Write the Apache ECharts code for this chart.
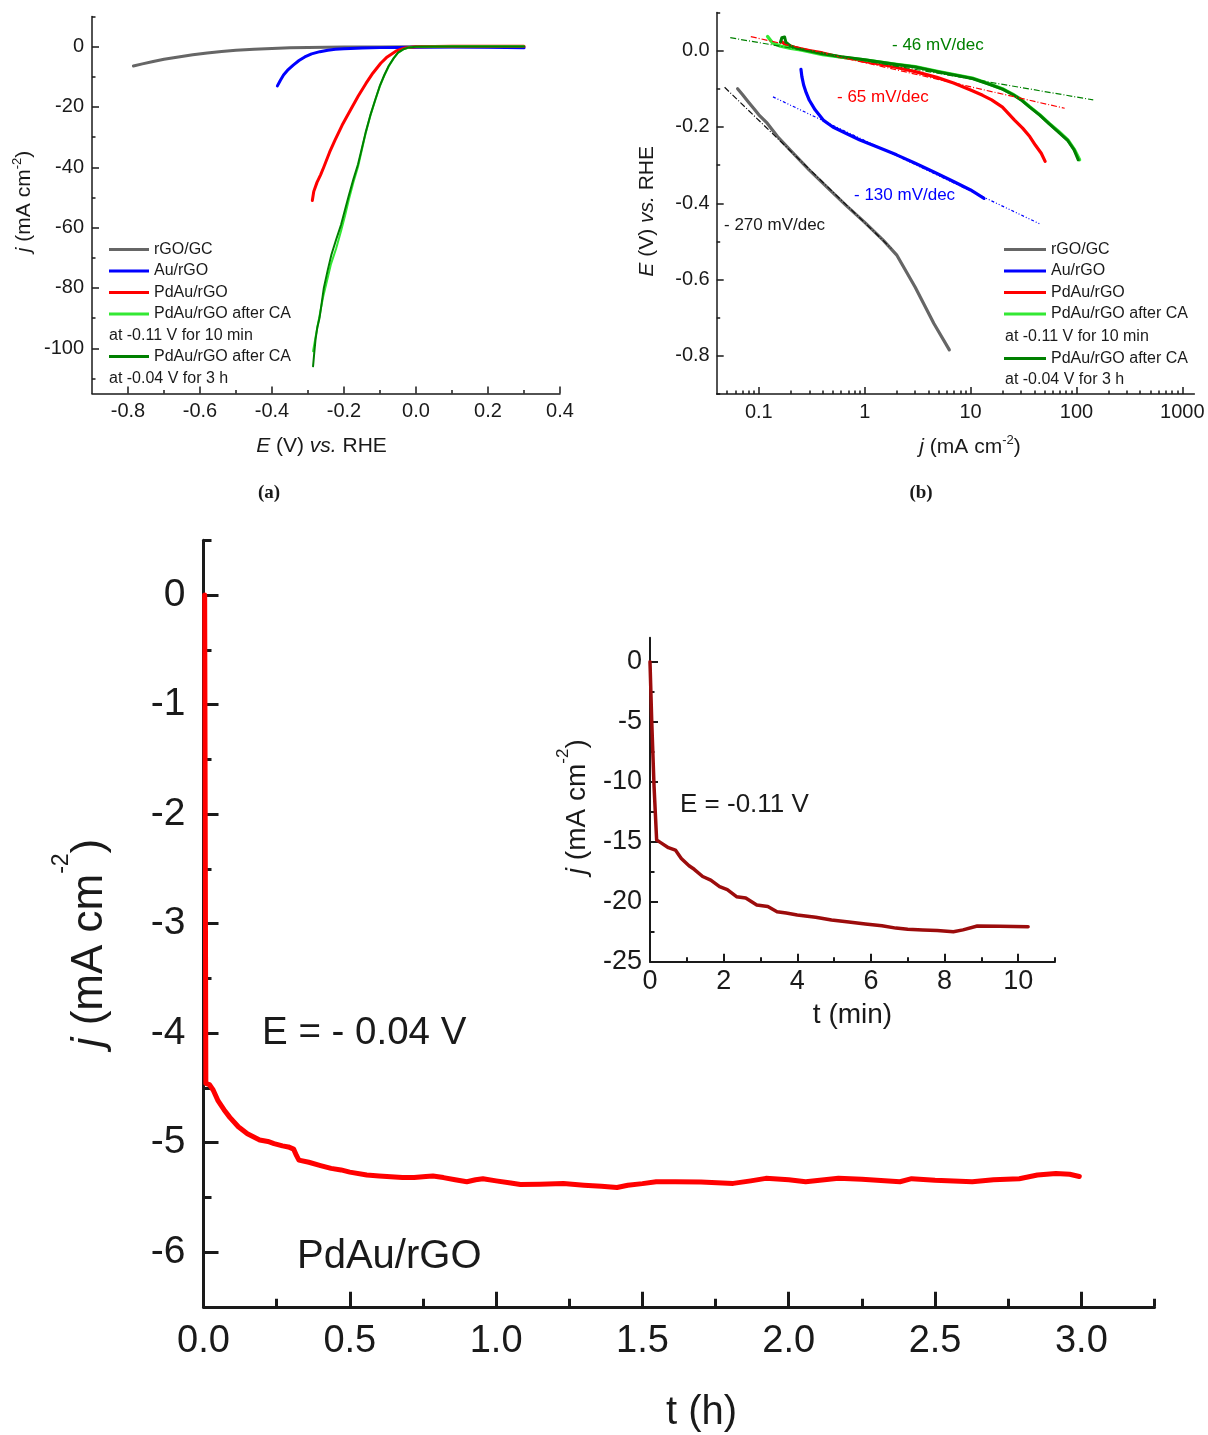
<!DOCTYPE html>
<html>
<head>
<meta charset="utf-8">
<script src="https://cdn.jsdelivr.net/npm/echarts@6/dist/echarts.min.js"></script>
<style>
  html, body { margin: 0; padding: 0; background: #ffffff; }
  #chart { width: 1208px; height: 1435px; }
</style>
</head>
<body>
<div id="chart"></div>
<script>
// ---------- (a) polarization curves: [E vs RHE (V), j (mA cm-2)] ----------
const lsvRgoGc = [[-0.785,-6.4],[-0.76,-5.7],[-0.73,-4.9],[-0.70,-4.2],[-0.66,-3.4],[-0.62,-2.7],[-0.58,-2.1],[-0.54,-1.6],[-0.50,-1.2],[-0.45,-0.85],[-0.40,-0.6],[-0.35,-0.4],[-0.30,-0.28],[-0.25,-0.2],[-0.20,-0.14],[-0.10,-0.08],[0.0,-0.04],[0.1,-0.02],[0.3,0]];
const lsvAu = [[-0.385,-13],[-0.377,-11.2],[-0.368,-9.4],[-0.355,-7.6],[-0.341,-6.1],[-0.325,-4.6],[-0.309,-3.4],[-0.29,-2.4],[-0.267,-1.66],[-0.245,-1.2],[-0.224,-0.87],[-0.2,-0.68],[-0.182,-0.57],[-0.15,-0.45],[-0.1,-0.32],[-0.05,-0.24],[0,-0.18],[0.1,-0.14],[0.2,-0.18],[0.3,-0.4]];
const lsvPdAu = [[-0.288,-51],[-0.284,-48],[-0.275,-45],[-0.265,-42.5],[-0.256,-39.9],[-0.24,-35],[-0.225,-31],[-0.205,-26],[-0.182,-21],[-0.16,-16.3],[-0.139,-12.2],[-0.12,-8.8],[-0.098,-5.5],[-0.08,-3.4],[-0.055,-1.4],[-0.03,-0.4],[0,0],[0.1,0.1],[0.3,0.1]];
const lsvCa10min = [[-0.286,-101],[-0.28,-97],[-0.274,-93],[-0.266,-88],[-0.258,-83],[-0.248,-78],[-0.236,-72],[-0.222,-67],[-0.208,-61],[-0.197,-56],[-0.187,-50.9],[-0.174,-45],[-0.161,-39.8],[-0.15,-34],[-0.14,-28.8],[-0.127,-23],[-0.113,-17.7],[-0.1,-13],[-0.088,-9.6],[-0.076,-6.6],[-0.062,-3.9],[-0.05,-2.1],[-0.035,-0.9],[-0.02,-0.3],[0,0],[0.1,0.1],[0.3,0.1]];
const lsvCa3h = [[-0.286,-106],[-0.283,-102],[-0.279,-97],[-0.274,-93],[-0.268,-90],[-0.262,-85],[-0.256,-80],[-0.245,-74],[-0.235,-69],[-0.222,-64],[-0.208,-59],[-0.197,-54],[-0.187,-49.5],[-0.174,-44],[-0.161,-39],[-0.15,-33.5],[-0.14,-28.5],[-0.127,-22.8],[-0.113,-17.5],[-0.1,-12.8],[-0.088,-9.4],[-0.076,-6.4],[-0.062,-3.8],[-0.05,-2.0],[-0.035,-0.85],[-0.02,-0.25],[0,0],[0.1,0.05],[0.3,0.05]];

// ---------- (b) Tafel plots: [j (mA cm-2), E vs RHE (V)] ----------
const tafelRgoGc = [[0.063,-0.10],[0.07,-0.115],[0.08,-0.135],[0.09,-0.152],[0.1,-0.168],[0.12,-0.19],[0.15,-0.225],[0.2,-0.262],[0.3,-0.313],[0.45,-0.36],[0.67,-0.406],[1.0,-0.45],[1.5,-0.497],[2.0,-0.535],[3.0,-0.62],[4.5,-0.715],[6.3,-0.784]];
const tafelAu = [[0.25,-0.049],[0.255,-0.068],[0.265,-0.09],[0.28,-0.11],[0.3,-0.13],[0.34,-0.155],[0.406,-0.182],[0.5,-0.2],[0.67,-0.217],[0.9,-0.234],[1.3,-0.252],[2.0,-0.273],[3.0,-0.295],[4.5,-0.318],[6.9,-0.343],[10,-0.365],[13.4,-0.387]];
const tafelPdAu = [[0.163,0.024],[0.18,0.016],[0.22,0.008],[0.3,0.0],[0.4,-0.006],[0.57,-0.016],[0.8,-0.022],[1.0,-0.028],[1.5,-0.037],[2.0,-0.044],[3.0,-0.055],[4.8,-0.07],[6.9,-0.085],[10,-0.103],[13,-0.117],[15.8,-0.129],[20,-0.148],[26,-0.182],[31,-0.203],[36.2,-0.225],[41,-0.248],[46.5,-0.269],[50.6,-0.29]];
const tafelCa10min = [[0.121,0.037],[0.135,0.02],[0.16,0.012],[0.2,0.006],[0.247,0.002],[0.4,-0.01],[0.6,-0.017],[1.0,-0.024],[2.0,-0.036],[3.0,-0.042],[5.0,-0.055],[10.4,-0.072],[15,-0.087],[20,-0.1],[25,-0.114],[30,-0.128],[36.2,-0.147],[45,-0.168],[55,-0.19],[68,-0.212],[83,-0.234],[95,-0.258],[107,-0.286]];
const tafelCa3h = [[0.16,0.022],[0.165,0.034],[0.175,0.036],[0.18,0.022],[0.2,0.012],[0.247,0.004],[0.4,-0.008],[0.6,-0.016],[1.0,-0.024],[2.0,-0.036],[3.0,-0.043],[5.0,-0.056],[10.4,-0.073],[15,-0.088],[20,-0.101],[25,-0.115],[30,-0.129],[36.2,-0.148],[45,-0.169],[55,-0.191],[68,-0.214],[83,-0.236],[95,-0.26],[104,-0.286]];
// linear Tafel fits (end points)
const fitRgoGc = [[0.0475,-0.096],[1.78,-0.518]];
const fitAu = [[0.136,-0.121],[45.1,-0.454]];
const fitPdAu = [[0.084,0.037],[77.4,-0.151]];
const fitCa = [[0.0537,0.034],[144,-0.129]];

// ---------- chronoamperometry at -0.04 V: [t (h), j (mA cm-2)] ----------
const caLong = [[0.004,0],[0.008,-4.46],[0.02,-4.47],[0.033,-4.52],[0.05,-4.62],[0.07,-4.70],[0.09,-4.77],[0.119,-4.856],[0.15,-4.92],[0.192,-4.977],[0.22,-4.99],[0.241,-5.01],[0.27,-5.03],[0.29,-5.04],[0.308,-5.06],[0.318,-5.12],[0.326,-5.16],[0.36,-5.18],[0.4,-5.21],[0.436,-5.236],[0.47,-5.25],[0.5,-5.27],[0.558,-5.297],[0.6,-5.305],[0.68,-5.32],[0.72,-5.32],[0.76,-5.31],[0.784,-5.306],[0.82,-5.32],[0.86,-5.34],[0.9,-5.358],[0.93,-5.34],[0.955,-5.33],[1.0,-5.35],[1.05,-5.37],[1.083,-5.383],[1.15,-5.38],[1.23,-5.375],[1.3,-5.39],[1.36,-5.4],[1.413,-5.41],[1.45,-5.39],[1.5,-5.375],[1.547,-5.358],[1.612,-5.358],[1.7,-5.36],[1.81,-5.373],[1.87,-5.35],[1.922,-5.327],[2.0,-5.34],[2.058,-5.358],[2.17,-5.327],[2.25,-5.335],[2.38,-5.358],[2.42,-5.33],[2.5,-5.345],[2.627,-5.358],[2.7,-5.34],[2.788,-5.33],[2.85,-5.297],[2.913,-5.282],[2.96,-5.29],[2.993,-5.31]];
// ---------- chronoamperometry at -0.11 V: [t (min), j (mA cm-2)] ----------
const caShort = [[0,0],[0.046,-4.86],[0.11,-10.4],[0.18,-14.86],[0.3,-15.1],[0.5,-15.5],[0.69,-15.7],[0.85,-16.4],[1.06,-17.0],[1.2,-17.3],[1.43,-17.9],[1.65,-18.2],[1.89,-18.75],[2.1,-19.0],[2.35,-19.58],[2.6,-19.7],[2.9,-20.28],[3.2,-20.4],[3.45,-20.83],[3.7,-20.95],[4.0,-21.1],[4.5,-21.3],[4.93,-21.53],[5.4,-21.7],[5.85,-21.86],[6.3,-22.0],[6.68,-22.2],[7.0,-22.3],[7.41,-22.36],[7.8,-22.4],[8.24,-22.5],[8.5,-22.35],[8.89,-22.03],[9.5,-22.05],[10.27,-22.08]];

// ---------- tick positions ----------
const lsvMajorE = [-0.8,-0.6,-0.4,-0.2,0,0.2,0.4];
const lsvMinorE = [-0.7,-0.5,-0.3,-0.1,0.1,0.3];
const lsvMajorJ = [-100,-80,-60,-40,-20,0];
const lsvMinorJ = [-110,-90,-70,-50,-30,-10,10];
const tafelMajorJ = [0.1,1,10,100,1000];
const tafelMinorJ = [0.05,0.06,0.07,0.08,0.09,0.2,0.3,0.4,0.5,0.6,0.7,0.8,0.9,2,3,4,5,6,7,8,9,20,30,40,50,60,70,80,90,200,300,400,500,600,700,800,900];
const tafelMajorE = [-0.8,-0.6,-0.4,-0.2,0];
const tafelMinorE = [-0.9,-0.7,-0.5,-0.3,-0.1,0.1];
const caMajorT = [0,0.5,1,1.5,2,2.5,3];
const caMinorT = [0.25,0.75,1.25,1.75,2.25,2.75,3.25];
const caMajorJ = [-6,-5,-4,-3,-2,-1,0];
const caMinorJ = [-5.5,-4.5,-3.5,-2.5,-1.5,-0.5,0.5];
const insetMajorT = [0,2,4,6,8,10];
const insetMinorT = [1,3,5,7,9,11];
const insetMajorJ = [-25,-20,-15,-10,-5,0];
const insetMinorJ = [-22.5,-17.5,-12.5,-7.5,-2.5];

// ---------- series names ----------
const NAME_RGO = 'rGO/GC';
const NAME_AU = 'Au/rGO';
const NAME_PDAU = 'PdAu/rGO';
const NAME_CA10 = 'PdAu/rGO after CA at -0.11 V for 10 min';
const NAME_CA3H = 'PdAu/rGO after CA at -0.04 V for 3 h';

const FONT = '"Liberation Sans", Arial, Helvetica, sans-serif';
const INK = '#1a1a1a';
const C_GRAY = '#666666', C_BLUE = '#0000ff', C_RED = '#ff0000', C_LIGHT = '#33e833', C_DARK = '#008000', C_WINE = '#9c0c0c';

// rich styles for axis titles: n = normal, i = italic, s = superscript
function titleRich(fs, supFs, raise) {
  const base = { fontSize: fs, lineHeight: fs, fontFamily: FONT, color: INK, verticalAlign: 'bottom' };
  return {
    n: Object.assign({}, base),
    i: Object.assign({}, base, { fontStyle: 'italic' }),
    s: { fontSize: supFs, lineHeight: fs, fontFamily: FONT, color: INK, verticalAlign: 'bottom', padding: [0, 0, raise, 0] }
  };
}

// an axis carrying line, major ticks and labels, plus a twin carrying only the minor ticks
function axisPair(o) {
  const lineStyle = { color: INK, width: o.lw };
  const main = {
    type: o.type || 'value', gridIndex: o.grid, position: o.position, min: o.min, max: o.max,
    axisLine: { show: true, onZero: false, lineStyle },
    axisTick: { show: true, inside: true, length: o.major, customValues: o.majors, lineStyle },
    axisLabel: { show: true, customValues: o.majors, formatter: o.fmt, margin: o.margin,
                 fontSize: o.fs, fontFamily: FONT, color: INK },
    splitLine: { show: false }, minorTick: { show: false },
    name: o.name, nameLocation: 'middle', nameGap: o.nameGap, nameRotate: o.nameRotate || 0,
    nameMoveOverlap: false,
    nameTextStyle: Object.assign({ fontSize: o.nfs, fontFamily: FONT, color: INK, lineHeight: o.nfs,
                     rich: o.rich || {} }, o.namePad ? { padding: o.namePad } : {}),
    silent: true
  };
  const minor = {
    type: o.type || 'value', gridIndex: o.grid, position: o.position, min: o.min, max: o.max,
    axisLine: { show: false, onZero: false },
    axisTick: { show: true, inside: true, length: o.minor, customValues: o.minors, lineStyle },
    axisLabel: { show: false }, splitLine: { show: false }, silent: true
  };
  return [main, minor];
}

const fix1 = v => Number(v).toFixed(1);
const intFmt = v => String(Math.round(v));
const logFmt = v => String(parseFloat(Number(v).toPrecision(6)));

const xAxes = [].concat(
  axisPair({ grid: 0, position: 'bottom', min: -0.9, max: 0.4, majors: lsvMajorE, minors: lsvMinorE,
    fmt: fix1, lw: 1.5, major: 7, minor: 3.5, margin: 8, fs: 20,
    name: '{i|E}{n| (V) }{i|vs.}{n| RHE}', nfs: 21, nameGap: 42, rich: titleRich(21, 13, 11), namePad: [0, 9, 0, 0] }),
  axisPair({ grid: 1, type: 'log', position: 'bottom', min: 0.04, max: 1300, majors: tafelMajorJ, minors: tafelMinorJ,
    fmt: logFmt, lw: 1.5, major: 7, minor: 3.5, margin: 8, fs: 20,
    name: '{i|j}{n| (mA cm}{s|-2}{n|)}', nfs: 21, nameGap: 43, rich: titleRich(21, 13, 11), namePad: [0, 0, 0, 29] }),
  axisPair({ grid: 2, position: 'bottom', min: 0, max: 3.25, majors: caMajorT, minors: caMinorT,
    fmt: fix1, lw: 3, major: 15, minor: 8, margin: 16, fs: 38,
    name: 't (h)', nfs: 40, nameGap: 86, namePad: [0, 0, 0, 45] }),
  axisPair({ grid: 3, position: 'bottom', min: 0, max: 11, majors: insetMajorT, minors: insetMinorT,
    fmt: intFmt, lw: 2, major: 8, minor: 4.5, margin: 6, fs: 27,
    name: 't (min)', nfs: 28, nameGap: 40 })
);

const yAxes = [].concat(
  axisPair({ grid: 0, position: 'left', min: -115, max: 10, majors: lsvMajorJ, minors: lsvMinorJ,
    fmt: intFmt, lw: 1.5, major: 7, minor: 3.5, margin: 8, fs: 20,
    name: '{i|j}{n| (mA cm}{s|-2}{n|)}', nfs: 21, nameGap: 57, nameRotate: 90, rich: titleRich(21, 13, 11), namePad: [0, 0, 0, 7] }),
  axisPair({ grid: 1, position: 'left', min: -0.9, max: 0.1, majors: tafelMajorE, minors: tafelMinorE,
    fmt: fix1, lw: 1.5, major: 7, minor: 3.5, margin: 7, fs: 20,
    name: '{i|E}{n| (V) }{i|vs.}{n| RHE}', nfs: 21, nameGap: 59, nameRotate: 90, rich: titleRich(21, 13, 11), namePad: [0, 16, 0, 0] }),
  axisPair({ grid: 2, position: 'left', min: -6.5, max: 0.5, majors: caMajorJ, minors: caMinorJ,
    fmt: intFmt, lw: 3, major: 15, minor: 8, margin: 18, fs: 39,
    name: '{i|j}{n| (mA cm}{s|-2}{n|)}', nfs: 44, nameGap: 92, nameRotate: 90, rich: titleRich(44, 23, 38), namePad: [0, 39, 0, 0] }),
  axisPair({ grid: 3, position: 'left', min: -25, max: 2, majors: insetMajorJ, minors: insetMinorJ,
    fmt: intFmt, lw: 2, major: 8, minor: 4.5, margin: 8, fs: 27,
    name: '{i|j}{n| (mA cm}{s|-2}{n|)}', nfs: 28, nameGap: 59, nameRotate: 90, rich: titleRich(28, 17, 19), namePad: [0, 14, 0, 0] })
);

function line(name, data, axisIdx, color, width, extra) {
  return Object.assign({
    type: 'line', name, data, xAxisIndex: axisIdx, yAxisIndex: axisIdx,
    symbol: 'none', showSymbol: false, smooth: false, silent: true, z: 2,
    lineStyle: { color, width, join: 'round', cap: 'round' }, itemStyle: { color }
  }, extra || {});
}
function fit(name, data, color, dash) {
  return line(name, data, 2, color, 1.2, { z: 4, lineStyle: { color, width: 1.2, type: dash } });
}

const series = [
  line(NAME_RGO, lsvRgoGc, 0, C_GRAY, 3),
  line(NAME_AU, lsvAu, 0, C_BLUE, 3),
  line(NAME_PDAU, lsvPdAu, 0, C_RED, 3),
  line(NAME_CA10, lsvCa10min, 0, C_LIGHT, 2),
  line(NAME_CA3H, lsvCa3h, 0, C_DARK, 2),

  line(NAME_RGO, tafelRgoGc, 2, C_GRAY, 3.2),
  line(NAME_AU, tafelAu, 2, C_BLUE, 3.2),
  line(NAME_PDAU, tafelPdAu, 2, C_RED, 3.2),
  line(NAME_CA10, tafelCa10min, 2, C_LIGHT, 3.4),
  line(NAME_CA3H, tafelCa3h, 2, C_DARK, 3),
  fit('Tafel fit rGO/GC', fitRgoGc, '#111111', [6, 2, 1, 2]),
  fit('Tafel fit Au/rGO', fitAu, C_BLUE, [3, 2, 1, 2, 1, 2]),
  fit('Tafel fit PdAu/rGO', fitPdAu, C_RED, [6, 2, 1, 2]),
  fit('Tafel fit after CA', fitCa, C_DARK, [6, 2, 1, 2]),

  line('CA -0.04 V', caLong, 4, C_RED, 5),
  line('CA -0.11 V', caShort, 6, C_WINE, 3.5)
];

const legendText = { fontSize: 16, fontFamily: FONT, color: INK, lineHeight: 16 };
const legendFmt = name => name.indexOf('after CA') >= 0 ? 'PdAu/rGO after CA' : name;
function legendBlock(names, left, top, w) {
  return { data: names, orient: 'vertical', left, top, padding: 0, itemWidth: w, itemHeight: 3,
           itemGap: 5.5, icon: 'rect', selectedMode: false, textStyle: legendText, formatter: legendFmt };
}

function txt(text, x, y, fs, color) {
  return { type: 'text', x, y, silent: true, z: 10,
    style: { text, fontSize: fs, fontFamily: FONT, fill: color || INK, align: 'left', verticalAlign: 'middle' } };
}
function serifLabel(text, x, y) {
  return { type: 'text', x, y, silent: true, z: 10,
    style: { text, fontSize: 19, fontWeight: 'bold', fontFamily: '"Liberation Serif", "Times New Roman", serif',
             fill: INK, align: 'center', verticalAlign: 'middle' } };
}

const option = {
  animation: false,
  backgroundColor: '#ffffff',
  grid: [
    { left: 92, top: 16.5, width: 468, height: 377, outerBoundsMode: 'none', containLabel: false },
    { left: 716.7, top: 12.5, width: 477.7, height: 381.6, outerBoundsMode: 'none', containLabel: false },
    { left: 203.5, top: 540.3, width: 951, height: 766.5, outerBoundsMode: 'none', containLabel: false },
    { left: 650, top: 637.7, width: 405, height: 324, outerBoundsMode: 'none', containLabel: false }
  ],
  xAxis: xAxes,
  yAxis: yAxes,
  legend: [
    legendBlock([NAME_RGO, NAME_AU, NAME_PDAU, NAME_CA10], 109, 241.5, 40),
    legendBlock([NAME_CA3H], 109, 348.5, 40),
    legendBlock([NAME_RGO, NAME_AU, NAME_PDAU, NAME_CA10], 1004, 241.5, 42),
    legendBlock([NAME_CA3H], 1004, 350.5, 42)
  ],
  graphic: [
    txt('at -0.11 V for 10 min', 109, 335.5, 16),
    txt('at -0.04 V for 3 h', 109, 378.5, 16),
    txt('at -0.11 V for 10 min', 1005, 336.5, 16),
    txt('at -0.04 V for 3 h', 1005, 379.5, 16),
    txt('- 46 mV/dec', 892, 45, 17, C_DARK),
    txt('- 65 mV/dec', 837, 97, 17, C_RED),
    txt('- 130 mV/dec', 854, 195, 17, C_BLUE),
    txt('- 270 mV/dec', 724, 225, 17, INK),
    serifLabel('(a)', 269, 493),
    serifLabel('(b)', 921, 493),
    txt('E = - 0.04 V', 262, 1033, 38.5),
    txt('PdAu/rGO', 297, 1257, 40),
    txt('E = -0.11 V', 680, 805, 26)
  ],
  series
};

const chart = echarts.init(document.getElementById('chart'), null, { renderer: 'canvas', width: 1208, height: 1435 });
chart.setOption(option);
</script>
</body>
</html>
